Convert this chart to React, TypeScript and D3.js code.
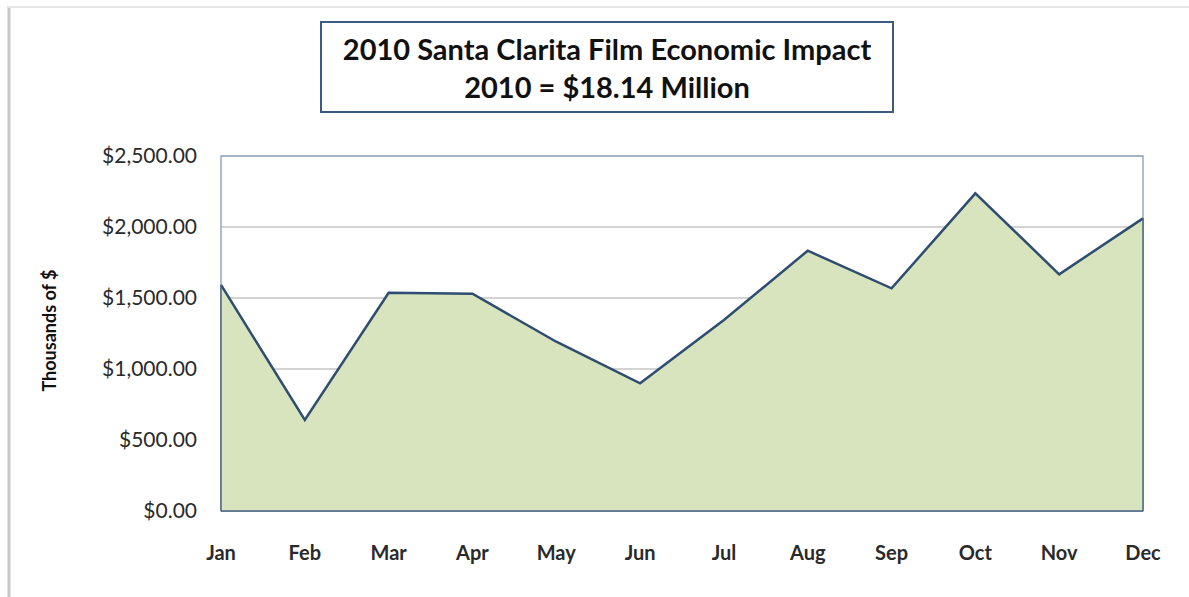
import React from "react";
import * as d3 from "d3";

const months = ["Jan", "Feb", "Mar", "Apr", "May", "Jun", "Jul", "Aug", "Sep", "Oct", "Nov", "Dec"];
const impact = [1592, 641, 1537, 1530, 1192, 899, 1345, 1833, 1568, 2237, 1667, 2061];
const yTicks = [0, 500, 1000, 1500, 2000, 2500];
const titleLines = ["2010 Santa Clarita Film Economic Impact", "2010 = $18.14 Million"];
const yAxisTitle = "Thousands of $";

const W = 1189;
const H = 597;
const plot = { left: 221, right: 1143, top: 156, bottom: 511 };
const font = "Lato, 'Open Sans', 'DejaVu Sans', sans-serif";

export default function App() {
  const x = d3.scalePoint<string>().domain(months).range([plot.left, plot.right]).padding(0);
  const y = d3.scaleLinear().domain([0, 2500]).range([plot.bottom, plot.top]);
  const fmt = (v: number) => "$" + d3.format(",.2f")(v);

  const data = months.map((m, i) => ({ m, v: impact[i] }));
  const area = d3
    .area<{ m: string; v: number }>()
    .x((d) => x(d.m)!)
    .y0(y(0))
    .y1((d) => y(d.v));
  const line = d3
    .line<{ m: string; v: number }>()
    .x((d) => x(d.m)!)
    .y((d) => y(d.v));

  return (
    <svg
      width={W}
      height={H}
      style={{ position: "absolute", left: 0, top: 0, background: "#fff" }}
    >
      {/* outer frame */}
      <line x1={9} y1={6} x2={9} y2={H} stroke="#c8c8c8" strokeWidth={3} />
      <line x1={8} y1={7} x2={W} y2={7} stroke="#e6e6e6" strokeWidth={2} />

      {/* title box */}
      <rect x={321} y={22} width={572} height={90} fill="#fff" stroke="#3d5a80" strokeWidth={2} />
      {titleLines.map((t, i) => (
        <text
          key={i}
          x={607}
          y={60 + i * 38}
          textAnchor="middle"
          fontFamily={font}
          fontWeight={700}
          fontSize={29}
          fill="#111"
        >
          {t}
        </text>
      ))}

      {/* gridlines */}
      {yTicks.map((t) => (
        <line
          key={t}
          x1={plot.left}
          x2={plot.right}
          y1={y(t)}
          y2={y(t)}
          stroke="#c4c4c4"
          strokeWidth={1.5}
        />
      ))}

      {/* plot border */}
      <rect
        x={plot.left}
        y={plot.top}
        width={plot.right - plot.left}
        height={plot.bottom - plot.top}
        fill="none"
        stroke="#95a8c2"
        strokeWidth={1.5}
      />

      {/* area */}
      <path d={area(data)!} fill="#d7e4bd" />
      <path d={line(data)!} fill="none" stroke="#2f4d70" strokeWidth={2.5} strokeLinejoin="miter" />
      <line x1={plot.left} x2={plot.left} y1={y(impact[0])} y2={plot.bottom} stroke="#4a6488" strokeWidth={1.5} />
      <line x1={plot.right} x2={plot.right} y1={y(impact[impact.length - 1])} y2={plot.bottom} stroke="#4a6488" strokeWidth={1.5} />
      <line x1={plot.left} x2={plot.right} y1={plot.bottom} y2={plot.bottom} stroke="#4a6488" strokeWidth={1.5} />

      {/* y tick labels */}
      {yTicks.map((t) => (
        <text
          key={t}
          x={197}
          y={y(t)}
          dy="0.35em"
          textAnchor="end"
          fontFamily={font}
          fontSize={21}
          fill="#2a2a2a"
        >
          {fmt(t)}
        </text>
      ))}

      {/* y axis title */}
      <text
        transform={`translate(50,${(plot.top + plot.bottom) / 2 - 3}) rotate(-90)`}
        dy="0.35em"
        textAnchor="middle"
        fontFamily={font}
        fontWeight={700}
        fontSize={18}
        fill="#111"
      >
        {yAxisTitle}
      </text>

      {/* x labels */}
      {months.map((m) => (
        <text
          key={m}
          x={x(m)!}
          y={553}
          dy="0.35em"
          textAnchor="middle"
          fontFamily={font}
          fontWeight={700}
          fontSize={20}
          fill="#2a2a2a"
        >
          {m}
        </text>
      ))}
    </svg>
  );
}
